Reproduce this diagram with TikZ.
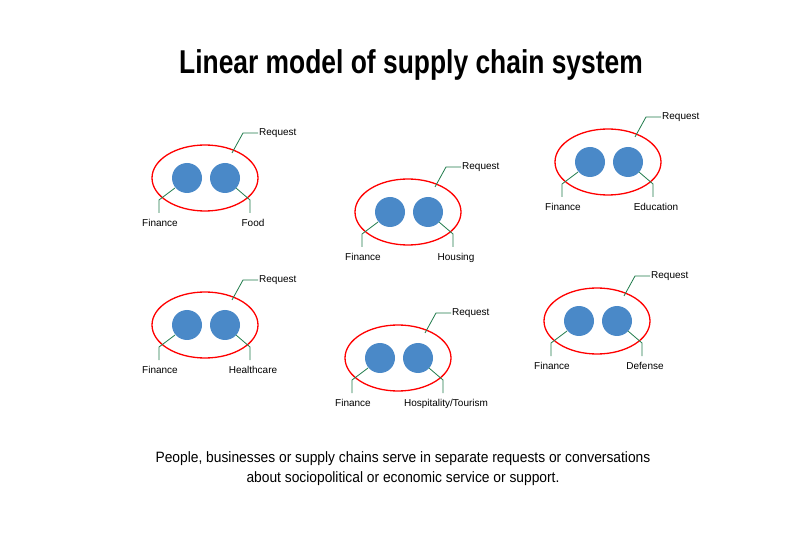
\documentclass[tikz,border=0pt]{standalone}
\usepackage{fontspec}
\usetikzlibrary{shapes.geometric}
\setmainfont{Liberation Sans}
\definecolor{blu}{HTML}{4A89C8}
\definecolor{grn}{HTML}{1E7A4A}
\begin{document}
\begin{tikzpicture}[x=1pt,y=-1pt,
  ring/.style={draw=red,line width=1.3pt,ellipse,minimum width=106pt,minimum height=66pt,inner sep=0},
  dot/.style={circle,fill=blu,minimum size=30pt,inner sep=0},
  lead/.style={draw=grn,line width=0.8pt},
  lab/.style={font=\fontsize{10}{12}\selectfont,inner sep=1pt}]
\useasboundingbox (0,0) rectangle (806,537);
\node[font=\fontsize{33}{38}\selectfont] (title) at (411,65) {\scalebox{0.8}[1]{\textbf{Linear model of supply chain system}}};
\newcommand\grp[5]{%
  \node[ring] (#3e) at (#1,#2) {};
  \node[dot] (#3a) at ([xshift=-18pt]#3e.center) {};
  \node[dot] (#3b) at ([xshift=20pt]#3e.center) {};
  \coordinate (#3r2) at ([shift={(38,-45)}]#3e.center);
  \node[lab,anchor=west] (#3rq) at ([shift={(53,-45)}]#3e.center) {Request};
  \draw[lead] ([shift={(27,-25)}]#3e.center) -- (#3r2) -- (#3rq.west);
  \node[lab,anchor=north] (#3fl) at ([shift={(-45,40)}]#3e.center) {Finance};
  \draw[lead] ([shift={(-30,10)}]#3e.center) -- ([shift={(-46,22)}]#3e.center) -- ([shift={(-46,35)}]#3e.center);
  \node[lab,anchor=north] (#3rl) at ([shift={(48,40)}]#3e.center) {#5};
  \coordinate (#3q) at ([shift={(45,22)}]#3e.center);
  \draw[lead] ([shift={(31,10)}]#3e.center) -- (#3q) -- ([shift={(45,35)}]#3e.center);
}
\grp{205}{178}{g1}{Finance}{Food}
\grp{408}{212}{g2}{Finance}{Housing}
\grp{608}{162}{g3}{Finance}{Education}
\grp{205}{325}{g4}{Finance}{Healthcare}
\grp{398}{358}{g5}{Finance}{Hospitality/Tourism}
\grp{597}{321}{g6}{Finance}{Defense}
\node[font=\fontsize{15}{20}\selectfont,align=center] (cap) at (403,469) {\scalebox{0.92}[1]{People, businesses or supply chains serve in separate requests or conversations}\\\scalebox{0.92}[1]{about sociopolitical or economic service or support.}};
\end{tikzpicture}
\end{document}
